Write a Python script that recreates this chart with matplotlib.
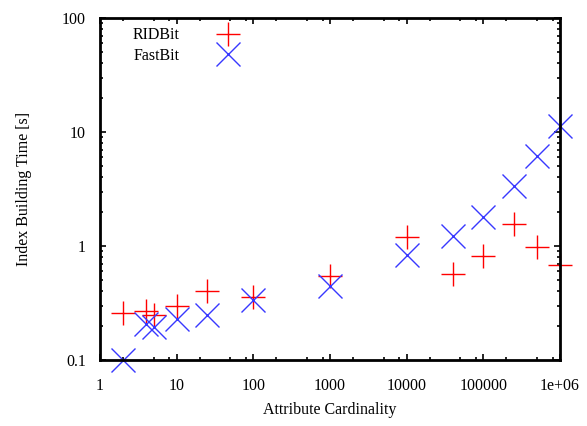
import matplotlib
matplotlib.use('Agg')
import matplotlib.pyplot as plt
from matplotlib.ticker import FixedLocator, FixedFormatter, LogLocator, NullFormatter

# cardinality vs index building time
rid_card = [2, 4, 5, 10, 25, 100, 1000, 10000, 40000, 100000, 250000, 500000, 1000000]
rid_time = [0.26, 0.27, 0.25, 0.30, 0.40, 0.36, 0.55, 1.19, 0.57, 0.82, 1.55, 0.98, 0.68]

fast_card = [2, 4, 5, 10, 25, 100, 1000, 10000, 40000, 100000, 250000, 500000, 1000000]
fast_time = [0.10, 0.207, 0.196, 0.229, 0.248, 0.336, 0.45, 0.834, 1.22, 1.79, 3.36, 6.16, 11.3]

xticks = [1, 10, 100, 1000, 10000, 100000, 1000000]
xticklabels = ['1', '10', '100', '1000', '10000', '100000', '1e+06']
yticks = [0.1, 1, 10, 100]
yticklabels = ['0.1', '1', '10', '100']

plt.rcParams['font.family'] = 'Liberation Serif'
plt.rcParams['font.size'] = 11.5

fig = plt.figure(figsize=(5.87, 4.26), dpi=100)
ax = fig.add_axes([0.1704, 0.155, 0.7836, 0.8027])

ax.plot(rid_card, rid_time, linestyle='none', marker='+', markersize=17,
        markeredgewidth=1.0, color='#ff0000', label='RIDBit', clip_on=False)
ax.plot(fast_card, fast_time, linestyle='none', marker='x', markersize=17,
        markeredgewidth=1.0, color='#3838ff', label='FastBit', clip_on=False)

ax.set_xscale('log')
ax.set_yscale('log')
ax.set_xlim(1, 1e6)
ax.set_ylim(0.1, 100)

ax.xaxis.set_major_locator(FixedLocator(xticks))
ax.xaxis.set_major_formatter(FixedFormatter(xticklabels))
ax.yaxis.set_major_locator(FixedLocator(yticks))
ax.yaxis.set_major_formatter(FixedFormatter(yticklabels))
ax.xaxis.set_minor_locator(LogLocator(base=10, subs=(2, 5, 8), numticks=20))
ax.yaxis.set_minor_locator(LogLocator(base=10, subs=(2, 3, 4, 5, 6, 7, 8, 9), numticks=20))
ax.xaxis.set_minor_formatter(NullFormatter())
ax.yaxis.set_minor_formatter(NullFormatter())

ax.tick_params(which='both', direction='in', top=True, right=True, width=1.2)
ax.tick_params(which='major', length=4.5)
ax.tick_params(axis='x', which='major', pad=13)
ax.tick_params(axis='y', which='major', pad=10)
ax.tick_params(which='minor', length=2.5)
for s in ax.spines.values():
    s.set_linewidth(2)

ax.set_xlabel('Attribute Cardinality', labelpad=6)
ax.set_ylabel('Index Building Time [s]', labelpad=22)

ax.legend(loc='upper left', markerfirst=False, frameon=False,
          bbox_to_anchor=(0.04, 1.015), handletextpad=2.0, labelspacing=0.3)

fig.savefig('out.png', dpi=100)
